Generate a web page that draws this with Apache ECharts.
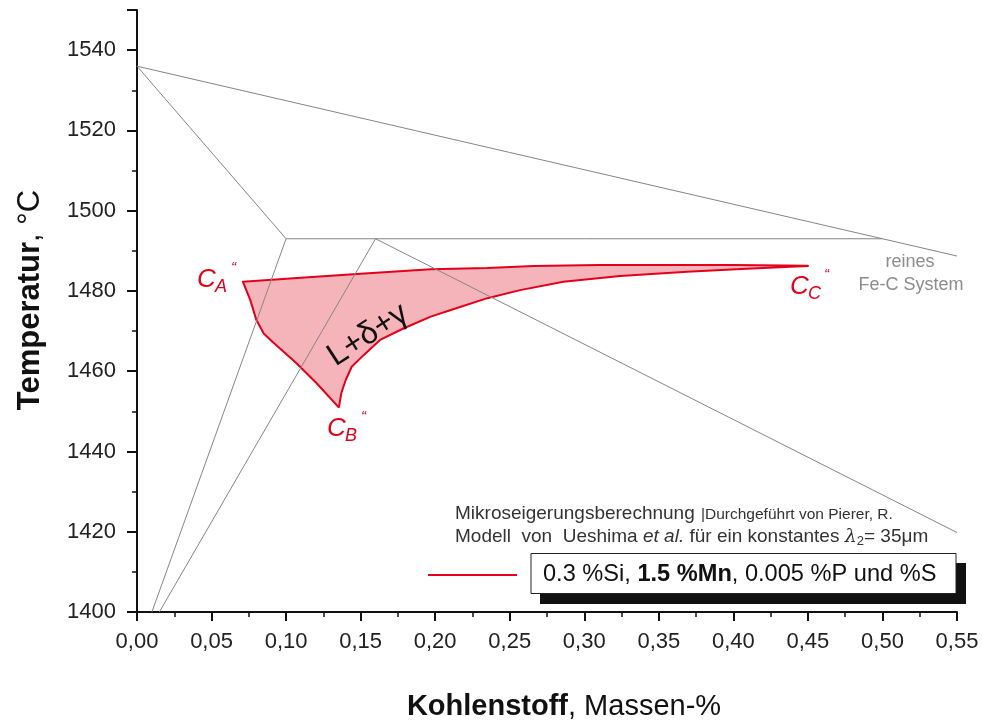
<!DOCTYPE html>
<html>
<head>
<meta charset="utf-8">
<script src="https://cdn.jsdelivr.net/npm/echarts@6/dist/echarts.min.js"></script>
<style>
  html, body { margin: 0; padding: 0; background: #fff; }
  #chart { width: 982px; height: 722px; }
</style>
</head>
<body>
<div id="chart"></div>
<script>
// reines Fe-C System (Peritektikum bei 1493 °C)
const deltaSolidus = [[0, 1536], [0.10, 1493]]
const liquidus = [[0, 1536], [0.50, 1493], [0.55, 1488.7]]
const peritectic = [[0.10, 1493], [0.50, 1493]]
const deltaBoundary = [[0.10, 1493], [0.010, 1400]]
const gammaBoundary = [[0.16, 1493], [0.015, 1400]]
const gammaSolidus = [[0.16, 1493], [0.55, 1419.8]]

// L+δ+γ Gebiet (Mikroseigerungsberechnung), CA'' -> CC'' -> CB'' -> CA''
const upperEdge = [[0.071, 1482.3], [0.11, 1483.3], [0.15, 1484.3], [0.197, 1485.4], [0.235, 1485.7],
  [0.266, 1486.2], [0.31, 1486.45], [0.40, 1486.45], [0.45, 1486.3]]
const lowerEdge = [[0.45, 1486.2], [0.431, 1485.9], [0.402, 1485.4], [0.369, 1484.8], [0.324, 1483.7],
  [0.286, 1482.3], [0.257, 1480.2], [0.235, 1478.2], [0.21, 1475.2], [0.197, 1473.6], [0.179, 1470.7],
  [0.163, 1467.8], [0.152, 1464.0], [0.144, 1461.1], [0.14, 1457.8], [0.137, 1454.5], [0.1355, 1451.1]]
const leftEdge = [[0.135, 1451.1], [0.1205, 1457.0], [0.107, 1462.0], [0.091, 1467.3], [0.085, 1469.4],
  [0.080, 1472.8], [0.076, 1477.7], [0.071, 1482.3]]
const regionOutline = upperEdge.concat(lowerEdge, leftEdge)

const FONT = '"Liberation Sans", Arial, sans-serif'
const RED = '#e3001b'
const GRAY = '#858585'

function grayLine (data) {
  return {
    type: 'line',
    data: data,
    symbol: 'none',
    silent: true,
    z: 3,
    lineStyle: { color: GRAY, width: 1 }
  }
}

function txt (x, y, text, style, extra) {
  return Object.assign({
    type: 'text',
    x: x,
    y: y,
    z: 100,
    silent: true,
    style: Object.assign({ text: text, fontFamily: FONT, fill: '#222' }, style)
  }, extra || {})
}

// C mit Index und Doppelstrich
function cLabel (x, y, sub) {
  return [
    txt(x, y, 'C', { fontSize: 26, fontStyle: 'italic', fill: RED, align: 'left', verticalAlign: 'middle' }),
    txt(x + 18, y + 7, sub, { fontSize: 18, fontStyle: 'italic', fill: RED, align: 'left', verticalAlign: 'middle' }),
    txt(x + 34, y - 12, '\u201C', { fontSize: 15, fontStyle: 'italic', fill: RED, align: 'left', verticalAlign: 'middle' })
  ]
}

const chart = echarts.init(document.getElementById('chart'))

chart.setOption({
  animation: false,
  backgroundColor: '#fff',
  grid: { left: 137, right: 25, top: 10, bottom: 110, outerBoundsMode: 'none' },
  xAxis: {
    type: 'value',
    min: 0,
    max: 0.55,
    interval: 0.05,
    axisLine: { show: true, onZero: false, lineStyle: { color: '#111', width: 2 } },
    axisTick: { show: true, length: 9, lineStyle: { color: '#111', width: 2 } },
    minorTick: { show: true, splitNumber: 2, length: 5, lineStyle: { color: '#111', width: 1.5 } },
    splitLine: { show: false },
    axisLabel: {
      margin: 19,
      fontSize: 22,
      fontFamily: FONT,
      color: '#222',
      formatter: function (v) {
        return v.toFixed(2).replace('.', ',')
      }
    }
  },
  yAxis: {
    type: 'value',
    min: 1400,
    max: 1550,
    interval: 20,
    axisLine: { show: true, onZero: false, lineStyle: { color: '#111', width: 2 } },
    axisTick: { show: true, length: 10, lineStyle: { color: '#111', width: 2 } },
    minorTick: { show: true, splitNumber: 2, length: 5, lineStyle: { color: '#111', width: 1.5 } },
    splitLine: { show: false },
    axisLabel: {
      margin: 21,
      fontSize: 22,
      fontFamily: FONT,
      color: '#222',
      formatter: function (v) {
        return v % 20 === 0 ? String(v) : ''
      }
    }
  },
  series: [
    {
      type: 'custom',
      coordinateSystem: 'cartesian2d',
      data: regionOutline,
      encode: { x: 0, y: 1 },
      silent: true,
      z: 1,
      renderItem: function (params, api) {
        if (params.dataIndex !== 0) return null
        return {
          type: 'polygon',
          shape: { points: regionOutline.map(function (p) { return api.coord(p) }) },
          style: { fill: '#f5b4b9', stroke: RED, lineWidth: 2, lineJoin: 'round' }
        }
      }
    },
    grayLine(deltaSolidus),
    grayLine(liquidus),
    grayLine(peritectic),
    grayLine(deltaBoundary),
    grayLine(gammaBoundary),
    grayLine(gammaSolidus)
  ],
  graphic: [
    // Achsentitel
    txt(30, 300, '{b|Temperatur}, °C', {
      fontSize: 31, align: 'center', verticalAlign: 'middle', fill: '#111',
      rich: { b: { fontSize: 31, fontFamily: FONT, fontWeight: 'bold', fill: '#111' } }
    }, { rotation: Math.PI / 2 }),
    txt(564, 707, '{b|Kohlenstoff}, Massen-%', {
      fontSize: 29, align: 'center', verticalAlign: 'middle', fill: '#111',
      rich: { b: { fontSize: 29, fontFamily: FONT, fontWeight: 'bold', fill: '#111' } }
    }),
    // Punkte
    ...cLabel(197, 280, 'A'),
    ...cLabel(327, 429, 'B'),
    ...cLabel(790, 287, 'C'),
    txt(910, 262, 'reines', { fontSize: 18, fill: '#8c8c8c', align: 'center', verticalAlign: 'middle' }),
    txt(911, 285, 'Fe-C System', { fontSize: 18, fill: '#8c8c8c', align: 'center', verticalAlign: 'middle' }),
    txt(368, 335, 'L+δ+γ', { fontSize: 32, fill: '#111', align: 'center', verticalAlign: 'middle' },
      { rotation: 33 * Math.PI / 180 }),
    // Beschreibung
    txt(455, 514, 'Mikroseigerungsberechnung', { fontSize: 19, fill: '#333', align: 'left', verticalAlign: 'middle' }),
    txt(701, 515, '|Durchgeführt von Pierer, R.', { fontSize: 15.5, fill: '#333', align: 'left', verticalAlign: 'middle' }),
    txt(455, 537, 'Modell  von  Ueshima {i|et al.} für ein konstantes {l|λ}{s|2}= 35μm', {
      fontSize: 19, fill: '#333', align: 'left', verticalAlign: 'middle',
      rich: {
        i: { fontSize: 19, fontFamily: FONT, fontStyle: 'italic', fill: '#333' },
        l: { fontSize: 19, fontFamily: '"DejaVu Serif", serif', fontStyle: 'italic', fill: '#333' },
        s: { fontSize: 13, fontFamily: FONT, fill: '#333', padding: [8, 0, 0, 0] }
      }
    }),
    // Legende
    { type: 'line', z: 100, silent: true, shape: { x1: 428, y1: 575, x2: 517, y2: 575 }, style: { stroke: RED, lineWidth: 2 } },
    { type: 'rect', z: 100, silent: true, shape: { x: 540, y: 563, width: 426, height: 41 }, style: { fill: '#111' } },
    { type: 'rect', z: 100, silent: true, shape: { x: 531, y: 553.5, width: 425, height: 40 }, style: { fill: '#fff', stroke: '#222', lineWidth: 1 } },
    txt(543, 574, '0.3 %Si, {b|1.5 %Mn}, 0.005 %P und %S', {
      fontSize: 23.6, fill: '#111', align: 'left', verticalAlign: 'middle',
      rich: { b: { fontSize: 23.6, fontFamily: FONT, fontWeight: 'bold', fill: '#111' } }
    })
  ]
})
</script>
</body>
</html>
